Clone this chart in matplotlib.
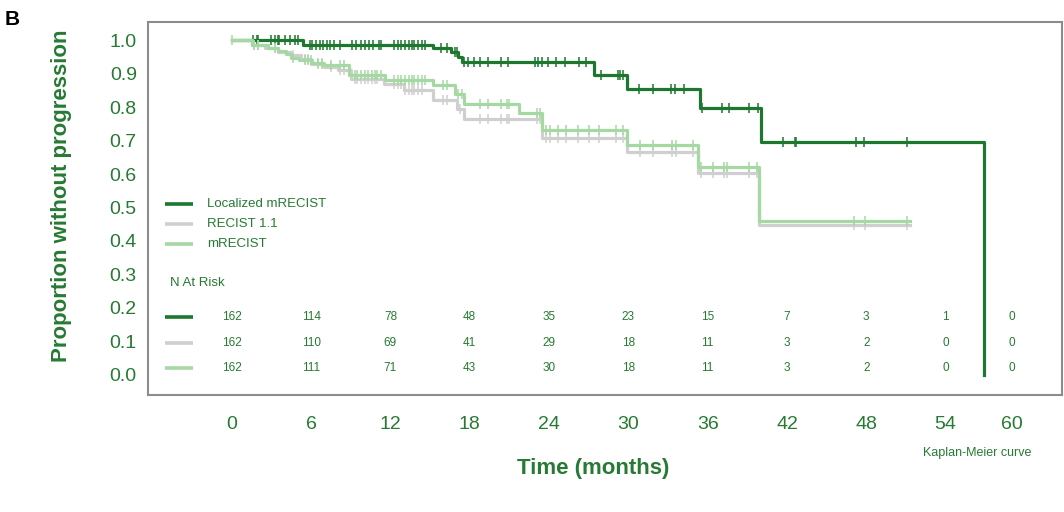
import numpy as np
import matplotlib
matplotlib.use("Agg")
import matplotlib.pyplot as plt
import matplotlib.transforms as mtransforms

plt.rcParams['font.family'] = ['Liberation Sans', 'DejaVu Sans']

# ---- data ----
groups = ["Localized mRECIST", "RECIST 1.1", "mRECIST"]
colors = ["#1d772e", "#cfcfcf", "#a6d8a4"]

# step curves (time in months, survival after the step)
loc_t = [0, 5.4, 15.2, 16.6, 17.1, 17.4, 27.4, 29.9, 35.4, 40.0, 56.9]
loc_s = [1.0, 0.985, 0.975, 0.963, 0.95, 0.935, 0.895, 0.855, 0.797, 0.697, 0.0]

rec_t = [0, 1.5, 2.5, 3.5, 4.5, 5.2, 6.0, 7.0, 8.0, 9.0, 11.5, 13.0, 15.2,
         17.0, 17.6, 23.5, 29.9, 35.3, 39.9, 51.3]
rec_s = [1.0, 0.985, 0.975, 0.965, 0.955, 0.945, 0.93, 0.92, 0.91, 0.885, 0.87,
         0.85, 0.82, 0.795, 0.765, 0.708, 0.665, 0.602, 0.448, 0.448]

mrec_t = [0, 1.5, 2.7, 3.5, 4.1, 4.5, 5.1, 6.1, 7.0, 8.9, 11.6, 15.2, 16.9,
          17.6, 21.7, 23.5, 29.9, 35.3, 39.9, 51.3]
mrec_s = [1.0, 0.985, 0.975, 0.967, 0.958, 0.948, 0.940, 0.932, 0.925, 0.897,
          0.881, 0.866, 0.84, 0.81, 0.783, 0.731, 0.687, 0.620, 0.461, 0.461]

# censor times
loc_cens = [1.6, 1.9, 2.0, 3.0, 3.3, 3.5, 3.6, 4.0, 4.4, 4.8, 5.0, 5.9, 6.1, 6.4,
            6.7, 6.9, 7.2, 7.4, 7.7, 8.2, 9.1, 9.4, 9.8, 10.1, 10.4, 10.7, 11.1,
            11.3, 12.3, 12.6, 12.8, 13.1, 13.4, 13.6, 13.8, 14.1, 14.4, 14.6,
            15.8, 16.3, 16.9, 17.0, 17.6, 17.9, 18.3, 18.8, 19.4, 20.4, 20.9,
            22.9, 23.2, 23.5, 23.9, 24.5, 25.2, 26.3, 26.8, 27.9, 29.2, 29.4,
            29.6, 30.8, 31.9, 33.2, 33.5, 34.2, 35.6, 37.1, 37.6, 39.1, 39.8,
            41.7, 42.6, 42.7, 47.2, 47.8, 51.1]
rec_cens = [1.7, 2.0, 3.25, 4.6, 5.5, 5.75, 6.5, 6.8, 7.5, 8.2, 8.5, 9.3, 9.5,
            9.8, 10.1, 10.3, 10.6, 10.8, 11.0, 12.3, 12.6, 12.8, 13.1, 13.4,
            13.6, 13.8, 14.1, 14.4, 16.0, 16.3, 17.3, 18.8, 19.4, 20.4, 20.8,
            21.0, 23.1, 23.3, 23.8, 24.1, 24.7, 25.3, 26.2, 27.0, 27.8, 29.1,
            29.6, 30.9, 31.9, 33.3, 33.6, 34.9, 35.5, 36.4, 37.2, 37.5, 39.1,
            39.7, 47.1, 47.9, 51.1]
mrec_cens = [0, 1.7, 2.0, 3.25, 4.6, 5.5, 5.75, 6.0, 6.5, 6.8, 7.5, 8.2, 8.5,
             9.3, 9.5, 9.8, 10.1, 10.3, 10.6, 10.8, 11.0, 11.3, 12.3, 12.6, 12.8,
             13.1, 13.4, 13.6, 13.8, 14.1, 14.4, 14.6, 16.0, 16.3, 17.1, 17.4,
             18.8, 19.4, 20.4, 20.8, 21.0, 23.1, 23.3, 23.8, 24.1, 24.7, 25.3,
             26.2, 27.0, 27.8, 29.1, 29.6, 30.9, 31.9, 33.3, 33.6, 34.9, 35.5,
             36.4, 37.2, 37.5, 39.1, 39.7, 47.1, 47.9, 51.1]

# numbers at risk
tick_labels = ["0", "6", "12", "18", "24", "30", "36", "42", "48", "54", "60"]
tick_pos = [0, 6, 12, 18, 24, 30, 36, 42, 48, 54, 59]
risk_loc = [162, 114, 78, 48, 35, 23, 15, 7, 3, 1, 0]
risk_rec = [162, 110, 69, 41, 29, 18, 11, 3, 2, 0, 0]
risk_mrec = [162, 111, 71, 43, 30, 18, 11, 3, 2, 0, 0]

txtc = "#267a33"

fig = plt.figure(figsize=(10.64, 5.12), dpi=100)
ax = fig.add_axes([0.139, 0.2285, 0.859, 0.7285])


def surv_at(t, ts, ss):
    i = np.searchsorted(ts, t, side='right') - 1
    return np.asarray(ss)[i]


curves = [(loc_t, loc_s, loc_cens), (rec_t, rec_s, rec_cens), (mrec_t, mrec_s, mrec_cens)]
for k, (ts, ss, cens) in enumerate(curves):
    ax.step(ts, ss, where='post', color=colors[k], lw=2.3, zorder=2 + k)
    cy = surv_at(np.array(cens), ts, ss)
    ax.plot(cens, cy, ls='none', marker='|', ms=6.5, mew=1.1, color=colors[k], zorder=2 + k)

ax.set_xlim(-6.35, 62.8)
ax.set_ylim(-0.06, 1.054)
ax.set_xticks(tick_pos)
ax.set_xticklabels(tick_labels)
ax.set_yticks(np.arange(0, 1.01, 0.1))
ax.set_yticklabels(["%.1f" % v for v in np.arange(0, 1.01, 0.1)])
ax.tick_params(length=0, labelsize=14, labelcolor=txtc)
ax.tick_params(axis='y', pad=8)
ax.tick_params(axis='x', pad=15)
for sp in ax.spines.values():
    sp.set_color("#8c8c8c")
    sp.set_linewidth(1.5)

# legend
leg_y = [0.512, 0.458, 0.405]
for k in range(3):
    ax.plot([0.0186, 0.0492], [leg_y[k]] * 2, color=colors[k], lw=2.6,
            transform=ax.transAxes, solid_capstyle='butt')
    ax.text(0.0646, leg_y[k], groups[k], transform=ax.transAxes, fontsize=9.5,
            color=txtc, va='center', ha='left')

ax.text(0.024, 0.300, "N At Risk", transform=ax.transAxes, fontsize=9.5,
        color=txtc, va='center', ha='left')

# risk table
row_y = [0.209, 0.139, 0.072]
blend = mtransforms.blended_transform_factory(ax.transData, ax.transAxes)
for k, row in enumerate([risk_loc, risk_rec, risk_mrec]):
    ax.plot([0.0186, 0.0492], [row_y[k]] * 2, color=colors[k], lw=2.6,
            transform=ax.transAxes, solid_capstyle='butt')
    for p, n in zip(tick_pos, row):
        ax.text(p, row_y[k], str(n), transform=blend, fontsize=8.5, color=txtc,
                ha='center', va='center')

ax.text(-0.094, 0.534, "Proportion without progression", transform=ax.transAxes,
        rotation=90, fontsize=16, fontweight='bold', color=txtc, ha='center', va='center')
ax.text(0.487, -0.196, "Time (months)", transform=ax.transAxes, fontsize=16,
        fontweight='bold', color=txtc, ha='center', va='center')
ax.text(0.907, -0.155, "Kaplan-Meier curve", transform=ax.transAxes, fontsize=9,
        color=txtc, ha='center', va='center')
fig.text(0.004, 0.962, "B", fontsize=15, fontweight='bold', color='black',
         ha='left', va='center')

fig.savefig("out.png", dpi=100)
